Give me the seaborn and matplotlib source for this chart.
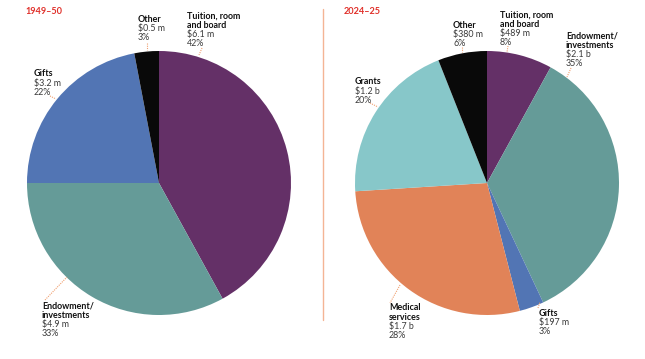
import matplotlib
matplotlib.use("Agg")
import matplotlib.pyplot as plt
import seaborn as sns

sns.set_theme(style="white")
plt.rcParams['font.family'] = ['Lato', 'DejaVu Sans']

# data
years = ["1949–50", "2024–25"]

sources_1949 = ["Tuition, room\nand board", "Endowment/\ninvestments", "Gifts", "Other"]
amounts_1949 = ["$6.1 m", "$4.9 m", "$3.2 m", "$0.5 m"]
shares_1949 = [42, 33, 22, 3]

sources_2024 = ["Tuition, room\nand board", "Endowment/\ninvestments", "Gifts",
                "Medical\nservices", "Grants", "Other"]
amounts_2024 = ["$489 m", "$2.1 b", "$197 m", "$1.7 b", "$1.2 b", "$380 m"]
shares_2024 = [8, 35, 3, 28, 20, 6]

source_colors = {
    "Tuition, room\nand board": "#643067",
    "Endowment/\ninvestments": "#659b98",
    "Gifts": "#5275b4",
    "Other": "#090909",
    "Medical\nservices": "#e18358",
    "Grants": "#87c7c9",
}

# label layout in pixels: (text x, first line y, leader start, leader end)
layout_1949 = [
    (187, 16, (202, 48), (199, 55)),
    (42, 306, (45, 300), (67, 277)),
    (34, 74, (50, 96), (56, 99)),
    (138, 19, (147, 43), (147, 50)),
]
layout_2024 = [
    (500, 15, (508, 46), (507, 52)),
    (566, 36, (571, 68), (567, 77)),
    (539, 313, (538, 308), (540, 302)),
    (389, 308, (400, 285), (390, 303)),
    (355, 82, (370, 103), (378, 107)),
    (453, 25, (462, 47), (462, 52)),
]

W, H = 645, 359
fig = plt.figure(figsize=(W / 100, H / 100), dpi=100)


def px(x, y):
    return x / W, 1 - y / H


def draw_pie(left, shares, sources, amounts, layout, year, title_x):
    ax = fig.add_axes([left / W, (H - 315) / H, 264 / W, 264 / H])
    ax.pie(shares, colors=[source_colors[s] for s in sources],
           startangle=90, counterclock=False, radius=1,
           wedgeprops=dict(linewidth=0))
    ax.set_xlim(-1, 1)
    ax.set_ylim(-1, 1)
    ax.axis("off")

    fig.text(*px(title_x, 12), year, color="#e0302a", fontsize=6.6,
             fontweight="bold", va="center", ha="left")

    for src, amt, sh, (tx, ty, p0, p1) in zip(sources, amounts, shares, layout):
        lines = src.split("\n")
        rows = [(l, "bold") for l in lines] + [(amt, "normal"), (f"{sh}%", "normal")]
        for i, (txt, w) in enumerate(rows):
            fig.text(*px(tx, ty + i * 9.3), txt, fontsize=6.4, fontweight=w,
                     color="#111111" if w == "bold" else "#3a3a3a",
                     va="center", ha="left")
        fig.add_artist(plt.Line2D([p0[0] / W, p1[0] / W], [1 - p0[1] / H, 1 - p1[1] / H],
                                  color="#f0a070", lw=0.8, ls=(0, (1, 1))))


draw_pie(27, shares_1949, sources_1949, amounts_1949, layout_1949, years[0], 25)
draw_pie(355, shares_2024, sources_2024, amounts_2024, layout_2024, years[1], 344)

# divider
fig.add_artist(plt.Line2D([323 / W, 323 / W], [1 - 9 / H, 1 - 320 / H],
                          color="#f4b495", lw=1))

fig.savefig("out.png", dpi=100)
